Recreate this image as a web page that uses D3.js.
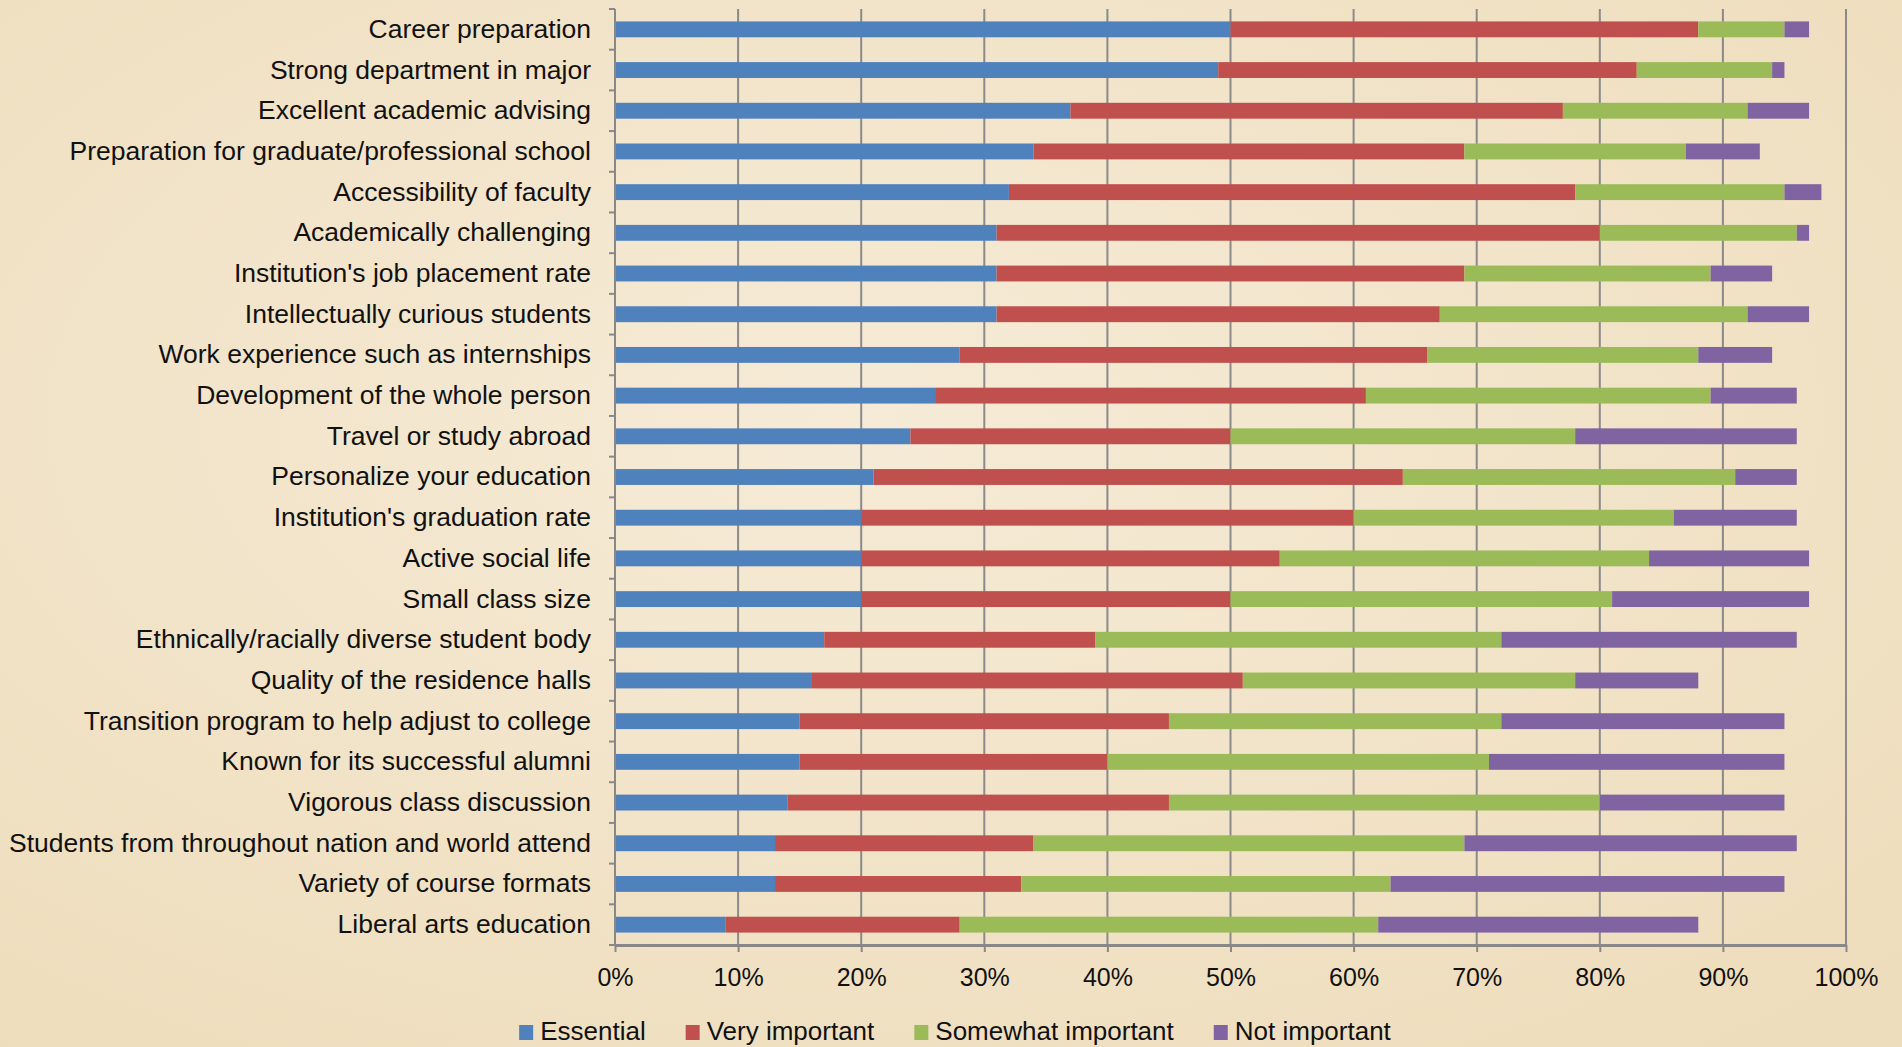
<!DOCTYPE html>
<html>
<head>
<meta charset="utf-8">
<script src="https://cdn.jsdelivr.net/npm/d3@7"></script>
<style>
  body { margin: 0; overflow: hidden; }
  text { font-family: "Liberation Sans", Arial, sans-serif; fill: #111; }
</style>
</head>
<body>
<script>
var width = 1902;
var height = 1047;

var categories = [
  'Career preparation',
  'Strong department in major',
  'Excellent academic advising',
  'Preparation for graduate/professional school',
  'Accessibility of faculty',
  'Academically challenging',
  "Institution's job placement rate",
  'Intellectually curious students',
  'Work experience such as internships',
  'Development of the whole person',
  'Travel or study abroad',
  'Personalize your education',
  "Institution's graduation rate",
  'Active social life',
  'Small class size',
  'Ethnically/racially diverse student body',
  'Quality of the residence halls',
  'Transition program to help adjust to college',
  'Known for its successful alumni',
  'Vigorous class discussion',
  'Students from throughout nation and world attend',
  'Variety of course formats',
  'Liberal arts education'
];

var seriesNames = ['Essential', 'Very important', 'Somewhat important', 'Not important'];
var seriesColors = ['#4F81BD', '#C0504D', '#9BBB59', '#8064A2'];

// percentages of respondents
var essential     = [50, 49, 37, 34, 32, 31, 31, 31, 28, 26, 24, 21, 20, 20, 20, 17, 16, 15, 15, 14, 13, 13, 9];
var veryImportant = [38, 34, 40, 35, 46, 49, 38, 36, 38, 35, 26, 43, 40, 34, 30, 22, 35, 30, 25, 31, 21, 20, 19];
var somewhat      = [7, 11, 15, 18, 17, 16, 20, 25, 22, 28, 28, 27, 26, 30, 31, 33, 27, 27, 31, 35, 35, 30, 34];
var notImportant  = [2, 1, 5, 6, 3, 1, 5, 5, 6, 7, 18, 5, 10, 13, 16, 24, 10, 23, 24, 15, 27, 32, 26];

var xTicks = [0, 0.1, 0.2, 0.3, 0.4, 0.5, 0.6, 0.7, 0.8, 0.9, 1];

var rows = categories.map(function(c, i) {
  return {
    name: c,
    'Essential': essential[i] / 100,
    'Very important': veryImportant[i] / 100,
    'Somewhat important': somewhat[i] / 100,
    'Not important': notImportant[i] / 100
  };
});

var plotLeft = 615, plotRight = 1846, plotTop = 9, plotBottom = 945;

var svg = d3.select('body')
  .append('svg')
  .attr('width', width)
  .attr('height', height);

var defs = svg.append('defs');
var grad = defs.append('radialGradient')
  .attr('id', 'bg')
  .attr('cx', '45%').attr('cy', '40%').attr('r', '75%');
grad.append('stop').attr('offset', '0%').attr('stop-color', '#F6EBD7');
grad.append('stop').attr('offset', '100%').attr('stop-color', '#EEDDBC');

svg.append('rect')
  .attr('width', width)
  .attr('height', height)
  .attr('fill', 'url(#bg)');

var x = d3.scaleLinear()
  .domain([0, 1])
  .range([plotLeft, plotRight]);

var y = d3.scaleBand()
  .domain(categories)
  .range([plotTop, plotBottom])
  .paddingInner(0.61)
  .paddingOuter(0.305);

// vertical gridlines
svg.append('g')
  .selectAll('line')
  .data(xTicks.slice(1))
  .enter()
  .append('line')
  .attr('x1', function(d) { return x(d); })
  .attr('x2', function(d) { return x(d); })
  .attr('y1', plotTop)
  .attr('y2', plotBottom)
  .attr('stroke', '#8a8a8a')
  .attr('stroke-width', 2);

// stacked bars
var stack = d3.stack().keys(seriesNames);
var layers = stack(rows);

svg.append('g')
  .selectAll('g')
  .data(layers)
  .enter()
  .append('g')
  .attr('fill', function(d, i) { return seriesColors[i]; })
  .selectAll('rect')
  .data(function(d) { return d; })
  .enter()
  .append('rect')
  .attr('x', function(d) { return x(d[0]); })
  .attr('y', function(d) { return y(d.data.name); })
  .attr('width', function(d) { return x(d[1]) - x(d[0]); })
  .attr('height', y.bandwidth());

// x axis
var xAxis = d3.axisBottom(x)
  .tickValues(xTicks)
  .tickFormat(d3.format('.0%'))
  .tickSize(7)
  .tickSizeOuter(0)
  .tickPadding(16);

var gx = svg.append('g')
  .attr('transform', 'translate(0,' + plotBottom + ')')
  .call(xAxis);
gx.select('.domain').attr('stroke', '#888').attr('stroke-width', 3);
gx.selectAll('.tick line').attr('stroke', '#888').attr('stroke-width', 2);
gx.selectAll('.tick text')
  .attr('font-size', '25px')
  .attr('font-family', '"Liberation Sans", Arial, sans-serif')
  .attr('fill', '#111');

// y axis: labels
var yAxis = d3.axisLeft(y)
  .tickSize(0)
  .tickPadding(24);

var gy = svg.append('g')
  .attr('transform', 'translate(' + plotLeft + ',0)')
  .call(yAxis);
gy.select('.domain').remove();
gy.selectAll('.tick text')
  .attr('font-size', '26.5px')
  .attr('font-family', '"Liberation Sans", Arial, sans-serif')
  .attr('fill', '#111');

// y axis line and category boundary ticks
var step = y.step();
var boundaries = categories.map(function(c) {
  return y(c) - (step - y.bandwidth()) / 2;
});
boundaries.push(plotBottom);

svg.append('line')
  .attr('x1', plotLeft).attr('x2', plotLeft)
  .attr('y1', plotTop).attr('y2', plotBottom)
  .attr('stroke', '#888')
  .attr('stroke-width', 2);

svg.append('g')
  .selectAll('line')
  .data(boundaries)
  .enter()
  .append('line')
  .attr('x1', plotLeft - 6)
  .attr('x2', plotLeft)
  .attr('y1', function(d) { return d; })
  .attr('y2', function(d) { return d; })
  .attr('stroke', '#888')
  .attr('stroke-width', 2);

// legend
var legend = svg.append('g');
var lx = 0;
seriesNames.forEach(function(name, i) {
  var item = legend.append('g').attr('transform', 'translate(' + lx + ',0)');
  item.append('rect')
    .attr('x', 0)
    .attr('y', -15)
    .attr('width', 14)
    .attr('height', 15)
    .attr('fill', seriesColors[i]);
  var t = item.append('text')
    .attr('x', 21)
    .attr('y', 0)
    .attr('font-size', '26px')
    .text(name);
  lx += 21 + t.node().getComputedTextLength() + 40;
});
var legendWidth = lx - 40;
legend.attr('transform', 'translate(' + (955 - legendWidth / 2) + ',1040)');
</script>
</body>
</html>
